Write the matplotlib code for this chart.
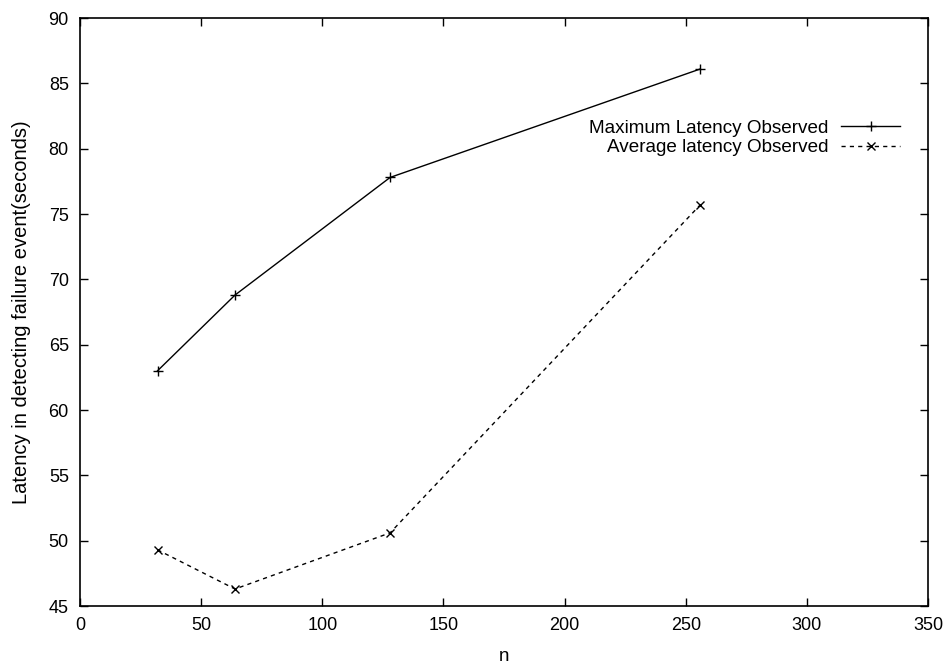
import matplotlib
matplotlib.use("Agg")
import matplotlib.pyplot as plt

plt.rcParams['font.family'] = ['Liberation Sans', 'DejaVu Sans']

n_values = [32, 64, 128, 256]
max_latency = [63.0, 68.8, 77.8, 86.1]
avg_latency = [49.3, 46.3, 50.6, 75.7]

x_ticks = [0, 50, 100, 150, 200, 250, 300, 350]
y_ticks = [45, 50, 55, 60, 65, 70, 75, 80, 85, 90]

fig = plt.figure(figsize=(9.51, 6.70), dpi=100)
ax = fig.add_axes([0.0841, 0.0955, 0.8917, 0.8776])

ax.plot(n_values, max_latency, color='black', linewidth=1.0, linestyle='-',
        marker='+', markersize=7, markeredgewidth=1.0,
        label='Maximum Latency Observed')
ax.plot(n_values, avg_latency, color='black', linewidth=1.0, linestyle=(0, (3, 3)),
        marker='x', markersize=6, markeredgewidth=1.0,
        label='Average latency Observed')

ax.set_xlim(0, 350)
ax.set_ylim(45, 90)
ax.set_xticks(x_ticks)
ax.set_yticks(y_ticks)
ax.tick_params(direction='in', length=6, width=1.0, top=True, right=True,
               labelsize=13, pad=8, colors='black')
for s in ax.spines.values():
    s.set_linewidth(1.2)

ax.set_xlabel('n', fontsize=13.5, labelpad=10)
ax.set_ylabel('Latency in detecting failure event(seconds)', fontsize=14.5)
ax.yaxis.set_label_coords(-0.058, 0.50)

ax.legend(loc='upper right', bbox_to_anchor=(0.967, 0.827), frameon=False,
          markerfirst=False, fontsize=13.6, handlelength=3.1, handletextpad=0.7,
          borderpad=0, borderaxespad=0, labelspacing=0.12)
for t in ax.get_legend().get_texts():
    t.set_ha('right')
ax.get_legend()._legend_box.align = 'right'

fig.savefig('out.png', dpi=100)
